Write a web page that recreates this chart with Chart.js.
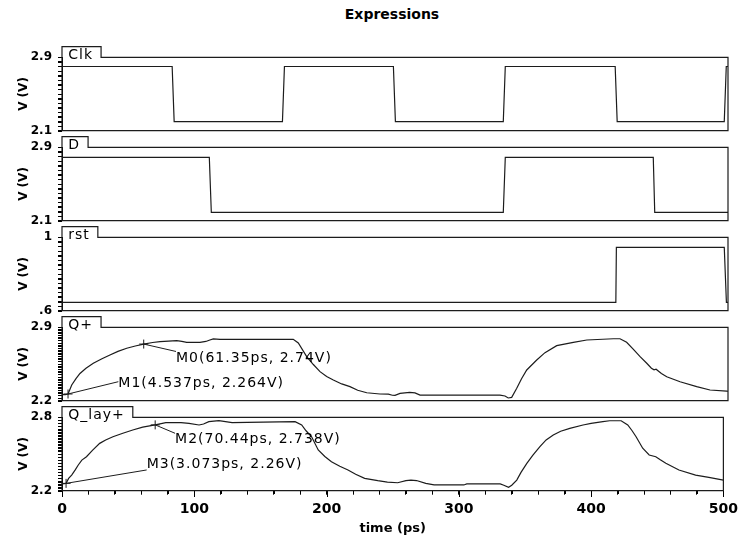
<!DOCTYPE html>
<html>
<head>
<meta charset="utf-8">
<script src="https://cdn.jsdelivr.net/npm/chart.js@4.4.1/dist/chart.umd.min.js"></script>
<style>
  html, body { margin: 0; padding: 0; background: #fff; }
  #wrap { position: relative; width: 744px; height: 540px; overflow: hidden; background: #fff; }
  #wrap canvas { position: absolute; left: 0; top: 0; }
  #title { position: absolute; left: 40px; width: 704px; top: 6px; text-align: center;
           font: bold 14px "DejaVu Sans"; color: #000; }
</style>
</head>
<body>
<div id="wrap">
  <div id="title">Expressions</div>
  <canvas id="p0" width="744" height="540"></canvas>
  <canvas id="p1" width="744" height="540"></canvas>
  <canvas id="p2" width="744" height="540"></canvas>
  <canvas id="p3" width="744" height="540"></canvas>
  <canvas id="p4" width="744" height="540"></canvas>
</div>
<script>
// ---- time axis ----
const timeMin = 0;
const timeMax = 500;
const timeMajorTicks = [0, 100, 200, 300, 400, 500];
const timeMinorStep = 20;

// ---- Clk (V) ----
const clkTime = [0, 82.7, 84.2, 165.5, 167.0, 248.8, 250.3, 331.3, 332.8, 415.3, 416.8, 497.2, 498.7, 500];
const clkVolt = [2.8, 2.8, 2.2, 2.2, 2.8, 2.8, 2.2, 2.2, 2.8, 2.8, 2.2, 2.2, 2.8, 2.8];
const clkTickLabels = ['2.1', '2.9'];

// ---- D (V) ----
const dTime = [0, 110.6, 112.1, 331.3, 332.8, 443.9, 445.0, 500];
const dVolt = [2.79, 2.79, 2.19, 2.19, 2.79, 2.79, 2.19, 2.19];
const dTickLabels = ['2.1', '2.9'];

// ---- rst (V) ----
const rstTime = [0, 415.8, 416.2, 497.2, 498.8, 500];
const rstVolt = [0.645, 0.645, 0.945, 0.945, 0.645, 0.645];
const rstTickLabels = ['.6', '1'];

// ---- Q+ (V) ----
const qTime = [0, 2.5, 4.537, 7.3, 10.5, 13.5, 18, 23.5, 30, 36, 42, 48.6, 55, 61.35, 68, 73.6, 80, 86.1, 90, 93.6,
  103.6, 108, 111, 113.6, 118.6, 173.6, 177.4, 183.7, 188.7, 193.7, 198.7, 203.7, 210, 216.2, 222, 228.8, 238.7,
  245, 248, 250, 253.8, 261, 265, 268.8, 328.8, 332.6, 335, 337.6, 341.4, 345, 348.9, 356.4, 362.6, 371.4, 383.9,
  394, 414, 418.9, 423.9, 429, 434, 439, 442.5, 444.5, 446, 450, 454, 464, 476.5, 486.5, 499, 500];
const qVolt = [2.258, 2.258, 2.264, 2.35, 2.41, 2.46, 2.51, 2.557, 2.60, 2.636, 2.67, 2.70, 2.722, 2.74, 2.755, 2.763,
  2.768, 2.772, 2.765, 2.757, 2.757, 2.765, 2.779, 2.79, 2.785, 2.785, 2.75, 2.62, 2.545, 2.477, 2.43, 2.397, 2.36,
  2.334, 2.30, 2.276, 2.264, 2.262, 2.252, 2.251, 2.27, 2.28, 2.275, 2.254, 2.254, 2.245, 2.226, 2.232, 2.318, 2.41,
  2.493, 2.588, 2.658, 2.725, 2.757, 2.779, 2.791, 2.791, 2.757, 2.69, 2.62, 2.557, 2.51, 2.495, 2.50, 2.46, 2.429,
  2.381, 2.334, 2.302, 2.292, 2.29];
const qTickLabels = ['2.2', '2.9'];

// ---- Q_lay+ (V) ----
const qlayTime = [0, 3.073, 5, 7.3, 10, 12.3, 15, 18.5, 23, 28.5, 33, 38.5, 46, 53.5, 61, 70.44, 78.5, 90, 96, 103.6,
  107, 111, 118.6, 128.6, 140, 176.2, 181.2, 184.5, 188.7, 193.7, 198.7, 203.7, 210, 216.2, 222, 228.8, 238.7, 246,
  253.8, 260, 263.8, 268, 275, 281.3, 303.8, 306, 331.3, 334, 337.6, 340, 343.8, 347, 351.4, 356, 361.3, 366, 371.4,
  377, 383.9, 393.9, 400, 408.9, 414, 422.7, 427.7, 431, 434, 439, 443.9, 448.9, 452, 456.5, 466.4, 479, 489, 500];
const qlayVolt = [2.255, 2.26, 2.30, 2.328, 2.37, 2.41, 2.45, 2.478, 2.53, 2.587, 2.615, 2.641, 2.67, 2.696, 2.72,
  2.738, 2.756, 2.756, 2.75, 2.737, 2.745, 2.764, 2.772, 2.756, 2.758, 2.764, 2.737, 2.69, 2.641, 2.533, 2.48, 2.437,
  2.40, 2.369, 2.335, 2.301, 2.282, 2.27, 2.265, 2.282, 2.287, 2.283, 2.26, 2.247, 2.247, 2.255, 2.255, 2.245, 2.228,
  2.245, 2.287, 2.35, 2.423, 2.49, 2.56, 2.615, 2.655, 2.686, 2.71, 2.737, 2.75, 2.764, 2.772, 2.772, 2.737, 2.69,
  2.641, 2.547, 2.492, 2.478, 2.455, 2.424, 2.369, 2.328, 2.309, 2.287];
const qlayTickLabels = ['2.2', '2.8'];

// ---- markers ----
const markerNames = ['M0', 'M1', 'M2', 'M3'];
const markerTime = [61.35, 4.537, 70.44, 3.073];
const markerVolt = [2.74, 2.264, 2.738, 2.26];
const markerPanel = [3, 3, 4, 4];

// label placement next to each marker (pixel offsets: leader end, text baseline start)
const markerLayout = [
  { line: [32.3, 7.4], text: [32.3, 17.6] },
  { line: [50.3, -12.3], text: [50.3, -7.3] },
  { line: [19.9, 8.4], text: [19.9, 18.1] },
  { line: [80.6, -13.4], text: [80.6, -15.4] }
];

const INK = '#1c1c1c';
const panels = [
  { name: 'Clk', t: clkTime, v: clkVolt, min: 2.1, max: 2.9, step: 0.05, labels: clkTickLabels },
  { name: 'D', t: dTime, v: dVolt, min: 2.1, max: 2.9, step: 0.05, labels: dTickLabels },
  { name: 'rst', t: rstTime, v: rstVolt, min: 0.6, max: 1.0, step: 0.025, labels: rstTickLabels },
  { name: 'Q+', t: qTime, v: qVolt, min: 2.2, max: 2.9, step: 0.025, labels: qTickLabels },
  { name: 'Q_lay+', t: qlayTime, v: qlayVolt, min: 2.2, max: 2.8, step: 0.025, labels: qlayTickLabels }
];

const FRAME_TOP0 = 57.3, PANEL_PITCH = 90, FRAME_H = 73.4, PLOT_LEFT = 62, PLOT_RIGHT = 728;

// axis tick marks (drawn with the scales, before the traces)
const axisTicks = {
  id: 'axisTicks',
  beforeDatasetsDraw(chart, args, opts) {
    const { ctx, chartArea: a } = chart;
    const xs = chart.scales.x, ys = chart.scales.y;
    const p = panels[opts.index];
    ctx.save();
    ctx.fillStyle = '#000';
    const n = Math.round((p.max - p.min) / p.step);
    for (let k = 0; k <= n; k++) {
      const py = Math.round(ys.getPixelForValue(p.min + k * (p.max - p.min) / n));
      ctx.fillRect(Math.round(a.left) - 4, py, 4, 1);
    }
    if (opts.showTime) {
      for (let v = timeMin; v <= timeMax; v += timeMinorStep) {
        const major = timeMajorTicks.includes(v);
        const px = Math.round(xs.getPixelForValue(v));
        ctx.fillRect(px, Math.round(a.bottom), 1, major ? 6 : 3);
      }
    }
    ctx.restore();
  }
};

// frame with name tab, marker crosses, leaders and readouts
const panelDecor = {
  id: 'panelDecor',
  afterDraw(chart, args, opts) {
    const { ctx, chartArea: a } = chart;
    const xs = chart.scales.x, ys = chart.scales.y;
    const p = panels[opts.index];
    ctx.save();
    ctx.font = '14px "DejaVu Sans"';
    ctx.letterSpacing = '1px';
    ctx.fillStyle = '#000';
    ctx.strokeStyle = INK;
    ctx.lineWidth = 1.2;
    const textX = a.left + 6.3;
    const tabRight = textX + ctx.measureText(p.name).width + 8;
    const tabTop = a.top - 10.6;
    ctx.beginPath();
    ctx.moveTo(a.left, a.bottom);
    ctx.lineTo(a.left, tabTop);
    ctx.lineTo(tabRight, tabTop);
    ctx.lineTo(tabRight, a.top);
    ctx.lineTo(a.right, a.top);
    ctx.lineTo(a.right, a.bottom);
    ctx.closePath();
    ctx.stroke();
    ctx.textBaseline = 'alphabetic';
    ctx.fillText(p.name, textX, a.top + 2);

    ctx.lineWidth = 1;
    markerNames.forEach((m, i) => {
      if (markerPanel[i] !== opts.index) return;
      const px = xs.getPixelForValue(markerTime[i]);
      const py = ys.getPixelForValue(markerVolt[i]);
      const L = markerLayout[i];
      ctx.beginPath();
      ctx.moveTo(px - 4.5, py); ctx.lineTo(px + 4.5, py);
      ctx.moveTo(px, py - 4.5); ctx.lineTo(px, py + 4.5);
      ctx.moveTo(px, py);
      ctx.lineTo(px + L.line[0], py + L.line[1]);
      ctx.stroke();
      const label = m + '(' + markerTime[i] + 'ps, ' + markerVolt[i] + 'V)';
      ctx.fillText(label, px + L.text[0], py + L.text[1]);
    });
    ctx.restore();
  }
};

panels.forEach((p, idx) => {
  const last = idx === panels.length - 1;
  const top = FRAME_TOP0 + PANEL_PITCH * idx;
  const bottom = top + FRAME_H;
  const lineData = p.t.map((t, k) => ({ x: t, y: p.v[k] }));

  new Chart(document.getElementById('p' + idx), {
    type: 'line',
    data: {
      datasets: [
        { data: lineData, borderColor: INK, borderWidth: 1.2, pointRadius: 0, tension: 0, fill: false }
      ]
    },
    options: {
      responsive: false,
      animation: false,
      devicePixelRatio: 1,
      layout: { padding: { left: 0, right: 744 - PLOT_RIGHT, top: top, bottom: last ? 0 : 540 - bottom } },
      plugins: {
        legend: { display: false },
        tooltip: { enabled: false },
        axisTicks: { index: idx, showTime: last },
        panelDecor: { index: idx }
      },
      scales: {
        x: {
          type: 'linear',
          display: last,
          min: timeMin,
          max: timeMax,
          afterFit: s => { s.height = last ? 540 - bottom : 0; },
          ticks: {
            autoSkip: false,
            maxRotation: 0,
            stepSize: timeMinorStep,
            padding: 6,
            color: '#000',
            font: { family: 'DejaVu Sans', size: 14, weight: 'bold' },
            callback: v => (timeMajorTicks.includes(Math.round(v)) ? String(Math.round(v)) : '')
          },
          grid: { display: true, drawOnChartArea: false, drawTicks: true, tickLength: 4, tickColor: '#000', tickWidth: 1 },
          border: { display: true, color: '#000', width: 1 },
          title: {
            display: true,
            text: 'time (ps)',
            color: '#000',
            font: { family: 'DejaVu Sans', size: 13, weight: 'bold' },
            padding: { top: 0, bottom: 4 }
          }
        },
        y: {
          type: 'linear',
          min: p.min,
          max: p.max,
          afterFit: s => { s.width = PLOT_LEFT; },
          ticks: {
            autoSkip: false,
            stepSize: p.step,
            padding: 6,
            color: '#000',
            font: { family: 'DejaVu Sans', size: 12, weight: 'bold' },
            callback: v => (Math.abs(v - p.min) < 1e-6 ? p.labels[0] : (Math.abs(v - p.max) < 1e-6 ? p.labels[1] : ''))
          },
          grid: { display: true, drawOnChartArea: false, drawTicks: true, tickLength: 4, tickColor: '#000', tickWidth: 1 },
          border: { display: true, color: '#000', width: 1 },
          title: {
            display: true,
            text: 'V (V)',
            color: '#000',
            font: { family: 'DejaVu Sans', size: 12, weight: 'bold' },
            padding: { top: 17, bottom: 0 }
          }
        }
      }
    },
    plugins: [axisTicks, panelDecor]
  });
});
</script>
</body>
</html>
